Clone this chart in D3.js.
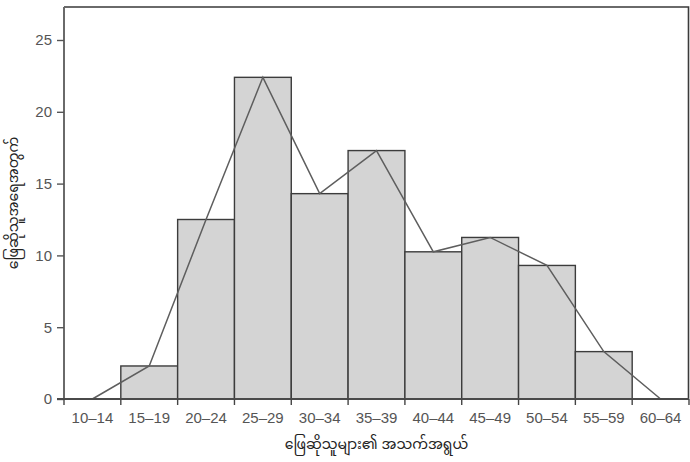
<!DOCTYPE html>
<html>
<head>
<meta charset="utf-8">
<script src="https://cdn.jsdelivr.net/npm/d3@7"></script>
<style>
  html, body { margin: 0; padding: 0; background: #fff; }
  svg { display: block; }
</style>
</head>
<body>
<svg id="chart" width="690" height="462"></svg>
<script>
const categories = ["10–14","15–19","20–24","25–29","30–34","35–39","40–44","45–49","50–54","55–59","60–64"];
const histValues = [0, 2.3, 12.5, 22.4, 14.3, 17.3, 10.25, 11.25, 9.3, 3.3, 0];
const polygonValues = [0, 2.3, 12.5, 22.4, 14.3, 17.3, 10.25, 11.25, 9.3, 3.3, 0];
const yTicks = [0, 5, 10, 15, 20, 25];
const xTitle = "ဖြေဆိုသူများ၏ အသက်အရွယ်";
const yTitle = "ဖြေဆိုသူအရေအတွက်";

const svg = d3.select("#chart");
const m = { left: 64, right: 689, top: 7, bottom: 399 };

const x = d3.scaleBand().domain(categories).range([m.left, m.right]).padding(0);
const y = d3.scaleLinear().domain([0, 25]).range([m.bottom, 40]);

const labelFont = "'Liberation Sans', Arial, Helvetica, sans-serif";
const myFont = "'Noto Sans Myanmar', 'Padauk', 'Myanmar Text', 'Noto Sans', sans-serif";

// frame (top & right)
svg.append("path")
  .attr("d", `M${m.left},${m.top}H${m.right - 0.5}V${m.bottom}`)
  .attr("fill", "none").attr("stroke", "#3a3a3a").attr("stroke-width", 1.6);

// bars
svg.append("g").selectAll("rect")
  .data(categories.map((c, i) => ({ c, v: histValues[i] })).filter(d => d.v > 0))
  .join("rect")
  .attr("x", d => x(d.c))
  .attr("y", d => y(d.v))
  .attr("width", x.bandwidth())
  .attr("height", d => y(0) - y(d.v))
  .attr("fill", "#d4d4d4")
  .attr("stroke", "#3c3c3c")
  .attr("stroke-width", 1.4);

// frequency polygon
const line = d3.line()
  .x((d, i) => x(categories[i]) + x.bandwidth() / 2)
  .y(d => y(d));
svg.append("path")
  .datum(polygonValues)
  .attr("d", line)
  .attr("fill", "none")
  .attr("stroke", "#5e5e5e")
  .attr("stroke-width", 1.5);

// y axis
const yAxis = d3.axisLeft(y).tickValues(yTicks).tickSize(7).tickPadding(5);
const gy = svg.append("g").attr("transform", `translate(${m.left},0)`).call(yAxis);
gy.select(".domain").attr("d", `M0,${m.top}V${m.bottom}`).attr("stroke", "#6a6a6a").attr("stroke-width", 2);
gy.selectAll(".tick line").attr("stroke", "#555").attr("stroke-width", 1.4);
gy.selectAll(".tick text").attr("fill", "#555").style("font-family", labelFont).style("font-size", "15px");

// x axis: ticks at bin boundaries
const boundaries = categories.map(c => x(c)).concat([m.right]);
const gx = svg.append("g");
gx.append("line")
  .attr("x1", m.left - 7).attr("x2", m.right)
  .attr("y1", m.bottom).attr("y2", m.bottom)
  .attr("stroke", "#4a4a4a").attr("stroke-width", 2);
gx.selectAll("line.bt").data(boundaries).join("line").attr("class", "bt")
  .attr("x1", d => d).attr("x2", d => d)
  .attr("y1", m.bottom).attr("y2", m.bottom + 6)
  .attr("stroke", "#444").attr("stroke-width", 1.4);
gx.selectAll("text").data(categories).join("text")
  .attr("x", d => x(d) + x.bandwidth() / 2)
  .attr("y", m.bottom + 24)
  .attr("text-anchor", "middle")
  .attr("fill", "#555")
  .style("font-family", labelFont).style("font-size", "15px")
  .text(d => d);

// axis titles
svg.append("text")
  .attr("x", (m.left + m.right) / 2).attr("y", 449)
  .attr("text-anchor", "middle")
  .attr("fill", "#222")
  .style("font-family", myFont).style("font-size", "14px")
  .text(xTitle);
svg.append("text")
  .attr("transform", `translate(18,${(m.top + m.bottom) / 2}) rotate(-90)`)
  .attr("text-anchor", "middle")
  .attr("fill", "#222")
  .style("font-family", myFont).style("font-size", "14px")
  .text(yTitle);
</script>
</body>
</html>
